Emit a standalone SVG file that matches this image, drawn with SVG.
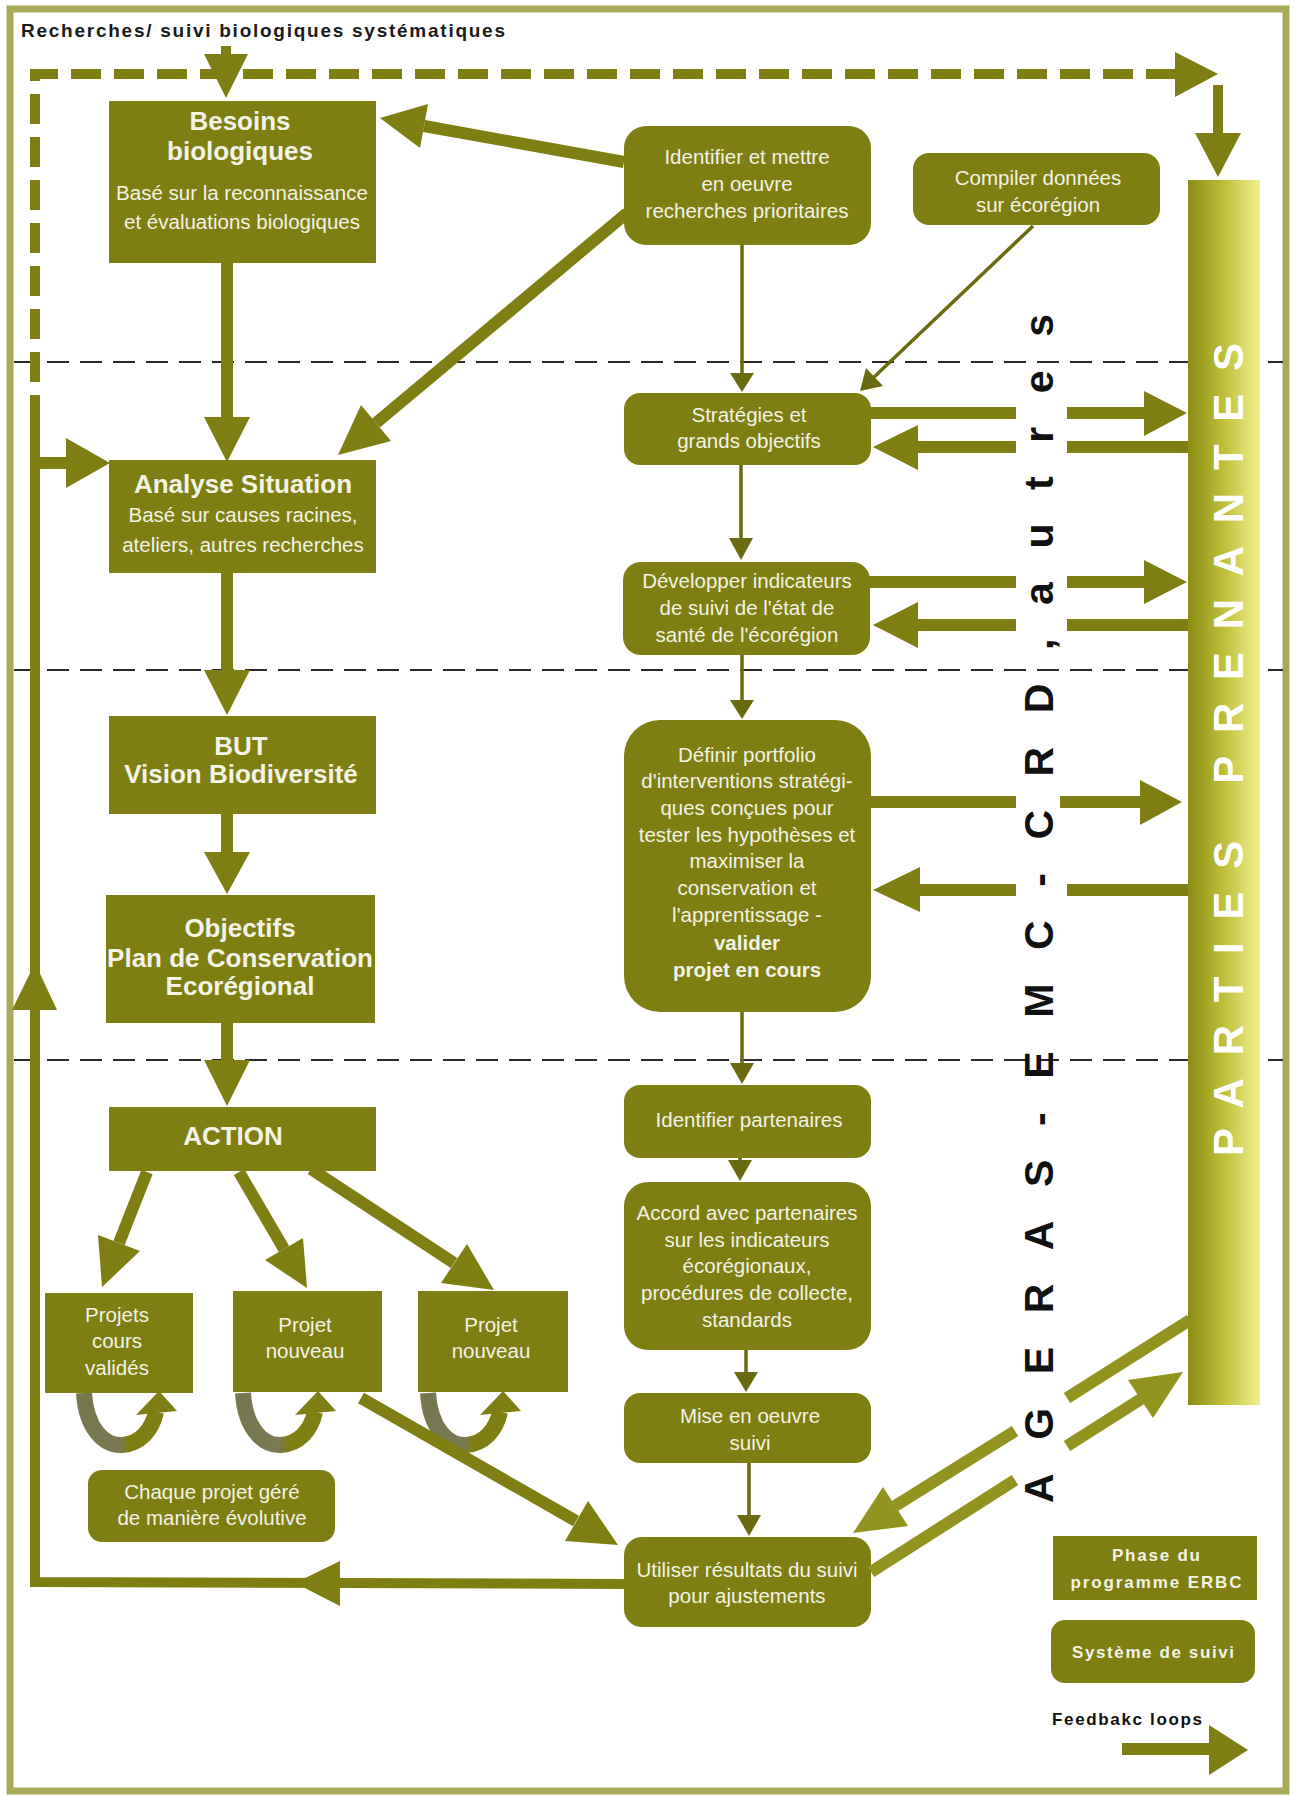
<svg xmlns="http://www.w3.org/2000/svg" width="1295" height="1796" viewBox="0 0 1295 1796">
<style>
.box{fill:#7e7e12}
.t{font-family:"Liberation Sans",Arial,sans-serif;fill:#f3f3e6;text-anchor:middle;font-size:20.5px}
.tb{font-family:"Liberation Sans",Arial,sans-serif;fill:#f3f3e6;text-anchor:middle;font-weight:bold;font-size:26px}
.lg{font-family:"Liberation Sans",Arial,sans-serif;fill:#f3f3e6;text-anchor:middle;font-weight:bold;font-size:17px}
.sh{stroke:#7e7e12;stroke-width:12;fill:none}
.shd{stroke:#93931f;stroke-width:12;fill:none}
.hd{fill:#7e7e12}
.hdd{fill:#93931f}
.th{stroke:#6a6a10;stroke-width:3.5;fill:none}
.thh{fill:#6a6a10}
.sep{stroke:#2a2a2a;stroke-width:1.8;stroke-dasharray:22 11;fill:none}
</style>
<defs>
<linearGradient id="barGrad" x1="0" y1="0" x2="1" y2="0">
<stop offset="0" stop-color="#8c8c16"/>
<stop offset="0.45" stop-color="#baba34"/>
<stop offset="1" stop-color="#f2f08e"/>
</linearGradient>
<linearGradient id="loopGrad" x1="0" y1="0" x2="1" y2="0">
<stop offset="0" stop-color="#77774f"/>
<stop offset="0.5" stop-color="#7a7a52"/>
<stop offset="0.62" stop-color="#7e7e12"/>
<stop offset="1" stop-color="#7e7e12"/>
</linearGradient>
<g id="loop">
<path d="M 84 1393 C 86 1428 104 1446 122 1445 C 140 1444 152 1430 156 1412" stroke="url(#loopGrad)" stroke-width="16" fill="none"/>
<polygon class="hd" points="136,1415 159,1391 177,1411"/>
</g>
</defs>
<rect x="0" y="0" width="1295" height="1796" fill="#ffffff"/>
<rect x="10" y="9" width="1276" height="1782" fill="none" stroke="#a9a95c" stroke-width="7"/>

<text x="21" y="37" font-family="Liberation Sans, Arial, sans-serif" font-weight="bold" font-size="19" fill="#1a1a1a" textLength="484" lengthAdjust="spacing">Recherches/ suivi biologiques systématiques</text>

<g id="separators">
<line class="sep" x1="14" y1="362" x2="1283" y2="362"/>
<line class="sep" x1="14" y1="670" x2="1283" y2="670"/>
<line class="sep" x1="14" y1="1060" x2="1283" y2="1060"/>
</g>

<g id="parties-prenantes">
<rect x="1188" y="180" width="72" height="1225" fill="url(#barGrad)"/>
<text transform="translate(1243,1156) rotate(-90)" font-family="Liberation Sans, Arial, sans-serif" font-weight="bold" font-size="42" fill="#ffffff" textLength="813" lengthAdjust="spacing">PARTIES PRENANTES</text>
</g>

<g id="n_besoins">
<rect class="box" x="109" y="101" width="267" height="162"/>
<text class="tb" x="240" y="130">Besoins</text>
<text class="tb" x="240" y="160">biologiques</text>
<text class="t" x="242" y="200">Basé sur la reconnaissance</text>
<text class="t" x="242" y="229">et évaluations biologiques</text>
</g>
<g id="n_analyse">
<rect class="box" x="109" y="460" width="267" height="113"/>
<text class="tb" x="243" y="493">Analyse Situation</text>
<text class="t" x="243" y="522">Basé sur causes racines,</text>
<text class="t" x="243" y="552">ateliers, autres recherches</text>
</g>
<g id="n_but">
<rect class="box" x="109" y="716" width="267" height="98"/>
<text class="tb" x="241" y="755" font-size="25">BUT</text>
<text class="tb" x="241" y="783" font-size="25">Vision Biodiversité</text>
</g>
<g id="n_objectifs">
<rect class="box" x="106" y="895" width="269" height="128"/>
<text class="tb" x="240" y="937" font-size="24">Objectifs</text>
<text class="tb" x="240" y="967" font-size="24">Plan de Conservation</text>
<text class="tb" x="240" y="995" font-size="24">Ecorégional</text>
</g>
<g id="n_action">
<rect class="box" x="109" y="1107" width="267" height="64"/>
<text class="tb" x="233" y="1145" font-size="25">ACTION</text>
</g>
<g id="n_proj1">
<rect class="box" x="45" y="1293" width="148" height="100"/>
<text class="t" x="117" y="1322">Projets</text>
<text class="t" x="117" y="1348">cours</text>
<text class="t" x="117" y="1375">validés</text>
</g>
<g id="n_proj2">
<rect class="box" x="233" y="1291" width="149" height="101"/>
<text class="t" x="305" y="1332">Projet</text>
<text class="t" x="305" y="1358">nouveau</text>
</g>
<g id="n_proj3">
<rect class="box" x="418" y="1291" width="150" height="101"/>
<text class="t" x="491" y="1332">Projet</text>
<text class="t" x="491" y="1358">nouveau</text>
</g>
<g id="loops">
<use href="#loop"/>
<use href="#loop" transform="translate(159,0)"/>
<use href="#loop" transform="translate(344,0)"/>
</g>
<g id="n_chaque">
<rect class="box" x="88" y="1470" width="247" height="72" rx="14"/>
<text class="t" x="212" y="1499">Chaque projet géré</text>
<text class="t" x="212" y="1525">de manière évolutive</text>
</g>

<g id="n_identifier">
<rect class="box" x="624" y="126" width="247" height="119" rx="22"/>
<text class="t" x="747" y="164">Identifier et mettre</text>
<text class="t" x="747" y="191">en oeuvre</text>
<text class="t" x="747" y="218">recherches prioritaires</text>
</g>
<g id="n_compiler">
<rect class="box" x="913" y="153" width="247" height="72" rx="16"/>
<text class="t" x="1038" y="185">Compiler données</text>
<text class="t" x="1038" y="212">sur écorégion</text>
</g>
<g id="n_strategies">
<rect class="box" x="624" y="393" width="247" height="72" rx="16"/>
<text class="t" x="749" y="422">Stratégies et</text>
<text class="t" x="749" y="448">grands objectifs</text>
</g>
<g id="n_developper">
<rect class="box" x="623" y="562" width="247" height="93" rx="18"/>
<text class="t" x="747" y="588">Développer indicateurs</text>
<text class="t" x="747" y="615">de suivi de l'état de</text>
<text class="t" x="747" y="642">santé de l'écorégion</text>
</g>
<g id="n_definir">
<rect class="box" x="624" y="720" width="247" height="292" rx="36"/>
<text class="t" x="747" y="762">Définir portfolio</text>
<text class="t" x="747" y="788">d'interventions stratégi-</text>
<text class="t" x="747" y="815">ques conçues pour</text>
<text class="t" x="747" y="842">tester les hypothèses et</text>
<text class="t" x="747" y="868">maximiser la</text>
<text class="t" x="747" y="895">conservation et</text>
<text class="t" x="747" y="922">l'apprentissage -</text>
<text class="t" x="747" y="950" font-weight="bold">valider</text>
<text class="t" x="747" y="977" font-weight="bold">projet en cours</text>
</g>
<g id="n_partenaires">
<rect class="box" x="624" y="1085" width="247" height="73" rx="16"/>
<text class="t" x="749" y="1127">Identifier partenaires</text>
</g>
<g id="n_accord">
<rect class="box" x="624" y="1182" width="247" height="168" rx="24"/>
<text class="t" x="747" y="1220">Accord avec partenaires</text>
<text class="t" x="747" y="1247">sur les indicateurs</text>
<text class="t" x="747" y="1273">écorégionaux,</text>
<text class="t" x="747" y="1300">procédures de collecte,</text>
<text class="t" x="747" y="1327">standards</text>
</g>
<g id="n_mise">
<rect class="box" x="624" y="1393" width="247" height="70" rx="16"/>
<text class="t" x="750" y="1423">Mise en oeuvre</text>
<text class="t" x="750" y="1450">suivi</text>
</g>
<g id="n_utiliser">
<rect class="box" x="624" y="1537" width="247" height="90" rx="18"/>
<text class="t" x="747" y="1577">Utiliser résultats du suivi</text>
<text class="t" x="747" y="1603">pour ajustements</text>
</g>

<g id="legend">
<rect class="box" x="1053" y="1536" width="204" height="64"/>
<text class="lg" x="1156" y="1561" textLength="88" lengthAdjust="spacing">Phase du</text>
<text class="lg" x="1156" y="1588" textLength="171" lengthAdjust="spacing">programme ERBC</text>
<rect class="box" x="1051" y="1620" width="204" height="63" rx="14"/>
<text class="lg" x="1153" y="1658" textLength="162" lengthAdjust="spacing">Système de suivi</text>
<text x="1052" y="1725" font-family="Liberation Sans, Arial, sans-serif" font-weight="bold" font-size="17" fill="#111111" textLength="150" lengthAdjust="spacing">Feedbakc loops</text>
<line class="sh" x1="1122" y1="1749" x2="1212" y2="1749"/>
<polygon class="hd" points="1209,1725 1248,1750 1209,1775"/>
</g>

<g id="connectors">
<path d="M 35 425 L 35 74 L 1180 74" stroke="#7e7e12" stroke-width="10" fill="none" stroke-dasharray="30 13"/>
<polygon class="hd" points="1175,52 1218,74 1175,97"/>
<line stroke="#7e7e12" stroke-width="10" x1="1218" y1="85" x2="1218" y2="136"/>
<polygon class="hd" points="1195,133 1241,133 1218,177"/>
<line stroke="#7e7e12" stroke-width="10" x1="226" y1="46" x2="226" y2="60"/>
<polygon class="hd" points="204,54 248,54 226,98"/>

<path d="M 624 1584 L 35 1582 L 35 425" stroke="#7e7e12" stroke-width="10" fill="none"/>
<polygon class="hd" points="340,1561 295,1583 340,1606"/>
<polygon class="hd" points="12,1010 35,963 57,1010"/>
<line class="sh" x1="35" y1="463" x2="70" y2="463"/>
<polygon class="hd" points="66,438 110,463 66,488"/>

<line class="sh" x1="227" y1="263" x2="227" y2="420"/>
<polygon class="hd" points="204,417 227,462 250,417"/>
<line class="sh" x1="227" y1="573" x2="227" y2="672"/>
<polygon class="hd" points="204,670 227,715 250,670"/>
<line class="sh" x1="227" y1="814" x2="227" y2="854"/>
<polygon class="hd" points="204,852 227,894 250,852"/>
<line class="sh" x1="227" y1="1023" x2="227" y2="1062"/>
<polygon class="hd" points="204,1060 227,1106 250,1060"/>

<line class="sh" x1="624" y1="162" x2="424" y2="126"/>
<polygon class="hd" points="428,104 380,118 420,148"/>
<line class="sh" x1="627" y1="213" x2="376" y2="423"/>
<polygon class="hd" points="361,405 338,455 391,441"/>

<line class="sh" x1="147" y1="1172" x2="119" y2="1243"/>
<polygon class="hd" points="98,1235 102,1287 140,1251"/>
<line class="sh" x1="239" y1="1172" x2="284" y2="1249"/>
<polygon class="hd" points="265,1260 307,1288 303,1238"/>
<line class="sh" x1="311" y1="1169" x2="454" y2="1263"/>
<polygon class="hd" points="441,1283 494,1290 467,1244"/>
<line class="sh" x1="361" y1="1398" x2="576" y2="1521"/>
<polygon class="hd" points="565,1541 618,1545 588,1501"/>

<line class="th" x1="742" y1="245" x2="742" y2="375"/>
<polygon class="thh" points="730,373 742,392 754,373"/>
<line class="th" x1="1033" y1="226" x2="872" y2="379"/>
<polygon class="thh" points="866,368 860,391 883,386"/>
<line class="th" x1="741" y1="465" x2="741" y2="540"/>
<polygon class="thh" points="729,538 741,560 753,538"/>
<line class="th" x1="742" y1="655" x2="742" y2="702"/>
<polygon class="thh" points="730,700 742,719 754,700"/>
<line class="th" x1="742" y1="1012" x2="742" y2="1065"/>
<polygon class="thh" points="730,1063 742,1084 754,1063"/>
<line class="th" x1="740" y1="1158" x2="740" y2="1162"/>
<polygon class="thh" points="728,1160 740,1181 752,1160"/>
<line class="th" x1="746" y1="1350" x2="746" y2="1374"/>
<polygon class="thh" points="734,1372 746,1392 758,1372"/>
<line class="th" x1="749" y1="1463" x2="749" y2="1517"/>
<polygon class="thh" points="737,1515 749,1536 761,1515"/>

<line class="sh" x1="871" y1="413" x2="1016" y2="413"/>
<line class="sh" x1="1067" y1="413" x2="1146" y2="413"/>
<polygon class="hd" points="1144,391 1187,413 1144,436"/>
<line class="sh" x1="1188" y1="447" x2="1067" y2="447"/>
<line class="sh" x1="1016" y1="447" x2="916" y2="447"/>
<polygon class="hd" points="918,425 873,447 918,470"/>

<line class="sh" x1="869" y1="582" x2="1016" y2="582"/>
<line class="sh" x1="1067" y1="582" x2="1146" y2="582"/>
<polygon class="hd" points="1144,560 1187,582 1144,604"/>
<line class="sh" x1="1188" y1="625" x2="1067" y2="625"/>
<line class="sh" x1="1016" y1="625" x2="916" y2="625"/>
<polygon class="hd" points="918,602 873,625 918,648"/>

<line class="sh" x1="871" y1="802" x2="1016" y2="802"/>
<line class="sh" x1="1060" y1="802" x2="1142" y2="802"/>
<polygon class="hd" points="1140,780 1182,802 1140,825"/>
<line class="sh" x1="1188" y1="890" x2="1067" y2="890"/>
<line class="sh" x1="1016" y1="890" x2="918" y2="890"/>
<polygon class="hd" points="920,867 873,890 920,912"/>

<line class="shd" x1="1190" y1="1320" x2="1067" y2="1398"/>
<line class="shd" x1="1015" y1="1431" x2="895" y2="1506"/>
<polygon class="hdd" points="883,1487 853,1533 908,1526"/>
<line class="shd" x1="871" y1="1572" x2="1015" y2="1480"/>
<line class="shd" x1="1067" y1="1446" x2="1141" y2="1399"/>
<polygon class="hdd" points="1153,1418 1183,1372 1128,1380"/>
</g>

<g id="ageras-label">
<text transform="translate(1053,1503) rotate(-90)" font-family="Liberation Sans, Arial, sans-serif" font-weight="bold" font-size="41" fill="#111111" letter-spacing="33.6" word-spacing="-45">AGERAS - EMC - CRD, autres</text>
</g>
</svg>
